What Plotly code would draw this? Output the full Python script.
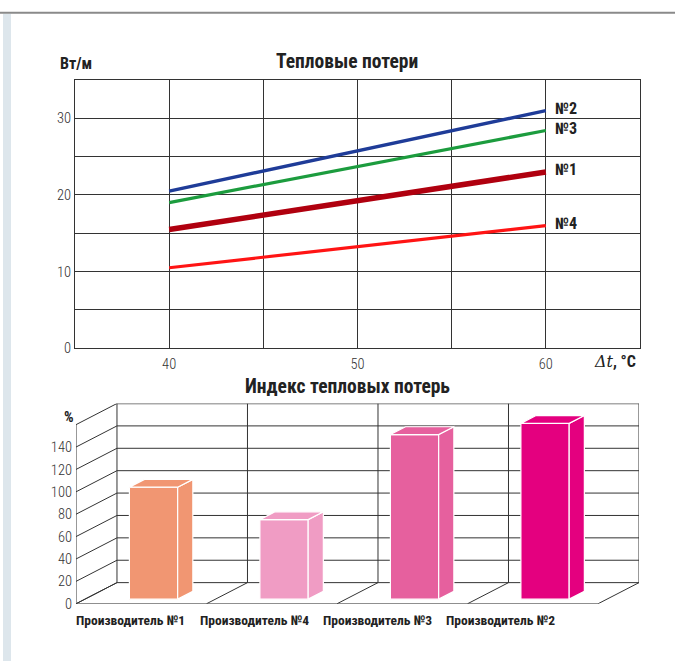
import plotly.graph_objects as go

W, H = 675, 670

# ---- Heat loss vs temperature difference (W/m) ----
dt = [40, 60]
loss_n1 = [15.5, 23.0]
loss_n2 = [20.5, 31.0]
loss_n3 = [19.0, 28.4]
loss_n4 = [10.5, 16.0]
line_names = ["№2", "№3", "№1", "№4"]
line_colors = ["#1f3c98", "#1c9c3e", "#b0000f", "#ff1414"]
line_widths = [3.4, 3.2, 5.5, 3.2]
top_xticks = [40, 50, 60]
top_yticks = [0, 10, 20, 30]

# ---- Heat loss index (%) ----
producers = ["Производитель №1", "Производитель №4", "Производитель №3", "Производитель №2"]
index_pct = [100, 71, 147, 157]
bar_colors = ["#f19672", "#f09cc4", "#e6609e", "#e4007f"]
index_ticks = [0, 20, 40, 60, 80, 100, 120, 140]
index_grid = [0, 20, 40, 60, 80, 100, 120, 140, 160]

# oblique projection used for the pseudo-3D box
DX, DY = 0.314, 18.9          # shift of the back wall (category units, value units)
T0, T1 = 0.22, 0.59           # bar depth range (fraction of the box depth)
B0, B1 = 0.34, 0.71           # bar x range inside each category slot


def proj(x, v, t):
    return x + t * DX, v + t * DY


def py(px):
    return 1 - px / H


def pxx(px):
    return px / W


FONT = "Roboto Condensed, Roboto, sans-serif"
LIGHT = "Roboto Condensed Light, Roboto Condensed, Roboto, sans-serif"

fig = go.Figure()

# ---- top chart lines ----
series = [loss_n2, loss_n3, loss_n1, loss_n4]
for name, vals, col, lw in zip(line_names, series, line_colors, line_widths):
    fig.add_trace(go.Scatter(x=dt, y=vals, mode="lines", line=dict(color=col, width=lw),
                             xaxis="x", yaxis="y", showlegend=False, hoverinfo="skip"))
    fig.add_annotation(x=dt[-1], y=vals[-1], xref="x", yref="y", text="<b>%s</b>" % name,
                       xanchor="left", yanchor="middle", xshift=7, yshift=2, showarrow=False,
                       font=dict(family=FONT, size=16, color="#222"))

# ---- bottom chart: box frame ----
GRID = dict(color="#333", width=1)


def seg(x0, y0, x1, y1, line=GRID):
    fig.add_trace(go.Scatter(x=[x0, x1], y=[y0, y1], mode="lines", line=line,
                             xaxis="x2", yaxis="y2", showlegend=False, hoverinfo="skip"))


n = len(producers)
top_v = index_grid[-1]
# back wall horizontals
for v in index_grid:
    a = proj(0, v, 1)
    b = proj(n, v, 1)
    seg(a[0], a[1], b[0], b[1], GRID if v != top_v else dict(color="#555", width=1.4))
# back wall verticals
for k in range(n + 1):
    a = proj(k, 0, 1)
    b = proj(k, top_v, 1)
    seg(a[0], a[1], b[0], b[1])
# left wall slants and front axis
for v in index_grid:
    a = proj(0, v, 0)
    b = proj(0, v, 1)
    seg(a[0], a[1], b[0], b[1])
seg(0, 0, 0, top_v)
# floor
seg(0, 0, n, 0)
for k in range(n + 1):
    a = proj(k, 0, 0)
    b = proj(k, 0, 1)
    seg(a[0], a[1], b[0], b[1])

# ---- bars ----
EDGE = dict(color="white", width=1.2)
for i, (val, col) in enumerate(zip(index_pct, bar_colors)):
    xl, xr = i + B0, i + B1
    faces = [
        [proj(xl, 0, T0), proj(xr, 0, T0), proj(xr, val, T0), proj(xl, val, T0)],
        [proj(xr, 0, T0), proj(xr, 0, T1), proj(xr, val, T1), proj(xr, val, T0)],
        [proj(xl, val, T0), proj(xr, val, T0), proj(xr, val, T1), proj(xl, val, T1)],
    ]
    for f in faces:
        xs = [p[0] for p in f] + [f[0][0]]
        ys = [p[1] for p in f] + [f[0][1]]
        fig.add_trace(go.Scatter(x=xs, y=ys, mode="lines", fill="toself", fillcolor=col,
                                 line=EDGE, xaxis="x2", yaxis="y2", showlegend=False,
                                 hoverinfo="skip"))
    fig.add_annotation(x=i * 0.945 + 0.42, y=0, xref="x2", yref="y2", text="<b>%s</b>" % producers[i],
                       showarrow=False, yshift=-16, xanchor="center", yanchor="middle",
                       font=dict(family=FONT, size=13.5, color="#222"))

TICKFONT = dict(family=LIGHT, size=14.5, color="#333")

fig.update_layout(
    width=W, height=H, autosize=False,
    margin=dict(l=0, r=0, t=0, b=0),
    paper_bgcolor="white", plot_bgcolor="white",
    xaxis=dict(domain=[pxx(75), pxx(640)], range=[35, 65], tickvals=[40, 45, 50, 55, 60],
               ticktext=["40", "", "50", "", "60"], showgrid=True, gridcolor="#333", gridwidth=1,
               showline=True, linecolor="#333", linewidth=1.2, mirror=True, zeroline=False,
               ticks="", tickfont=TICKFONT, ticklabelstandoff=2, fixedrange=True),
    yaxis=dict(domain=[py(353), py(81)], range=[0, 35], tickvals=[0, 5, 10, 15, 20, 25, 30],
               ticktext=["0", "", "10", "", "20", "", "30"], showgrid=True, gridcolor="#333",
               gridwidth=1, showline=True, linecolor="#333", linewidth=1.2, mirror=True,
               zeroline=False, ticks="", tickfont=TICKFONT, fixedrange=True),
    xaxis2=dict(domain=[pxx(76), pxx(639)], range=[0, n + DX], showgrid=False, zeroline=False,
                showline=False, showticklabels=False, fixedrange=True),
    yaxis2=dict(domain=[py(612), py(409)], range=[0, top_v + DY], tickvals=index_ticks,
                showgrid=False, zeroline=False, showline=False, ticks="", tickfont=TICKFONT,
                ticklabelstandoff=3, anchor="x2", fixedrange=True),
    showlegend=False,
)

# page frame
fig.add_shape(type="line", xref="paper", yref="paper", x0=0, x1=1, y0=py(13), y1=py(13),
              line=dict(color="#8a8a8a", width=2))
fig.add_shape(type="rect", xref="paper", yref="paper", x0=pxx(3), x1=pxx(11), y0=0, y1=py(14),
              fillcolor="#dde6ec", line=dict(width=0), layer="below")


# titles and axis labels
def label(x, y, text, size, anchor="center"):
    fig.add_annotation(x=pxx(x), y=py(y), xref="paper", yref="paper", showarrow=False,
                       xanchor=anchor, yanchor="middle", text=text,
                       font=dict(family=FONT, size=size, color="#222"))


label(347, 62, "<b>Тепловые потери</b>", 19.5)
label(58, 64, "<b>Вт/м</b>", 16, "left")
label(638, 366, "<span style='font-family:DejaVu Serif'><i>Δt</i></span><b>, °C</b>", 16, "right")
label(347, 392, "<b>Индекс тепловых потерь</b>", 19.5)
label(62, 423, "<b>%</b>", 15, "left")

fig.write_html("out.html", config={"responsive": False})
